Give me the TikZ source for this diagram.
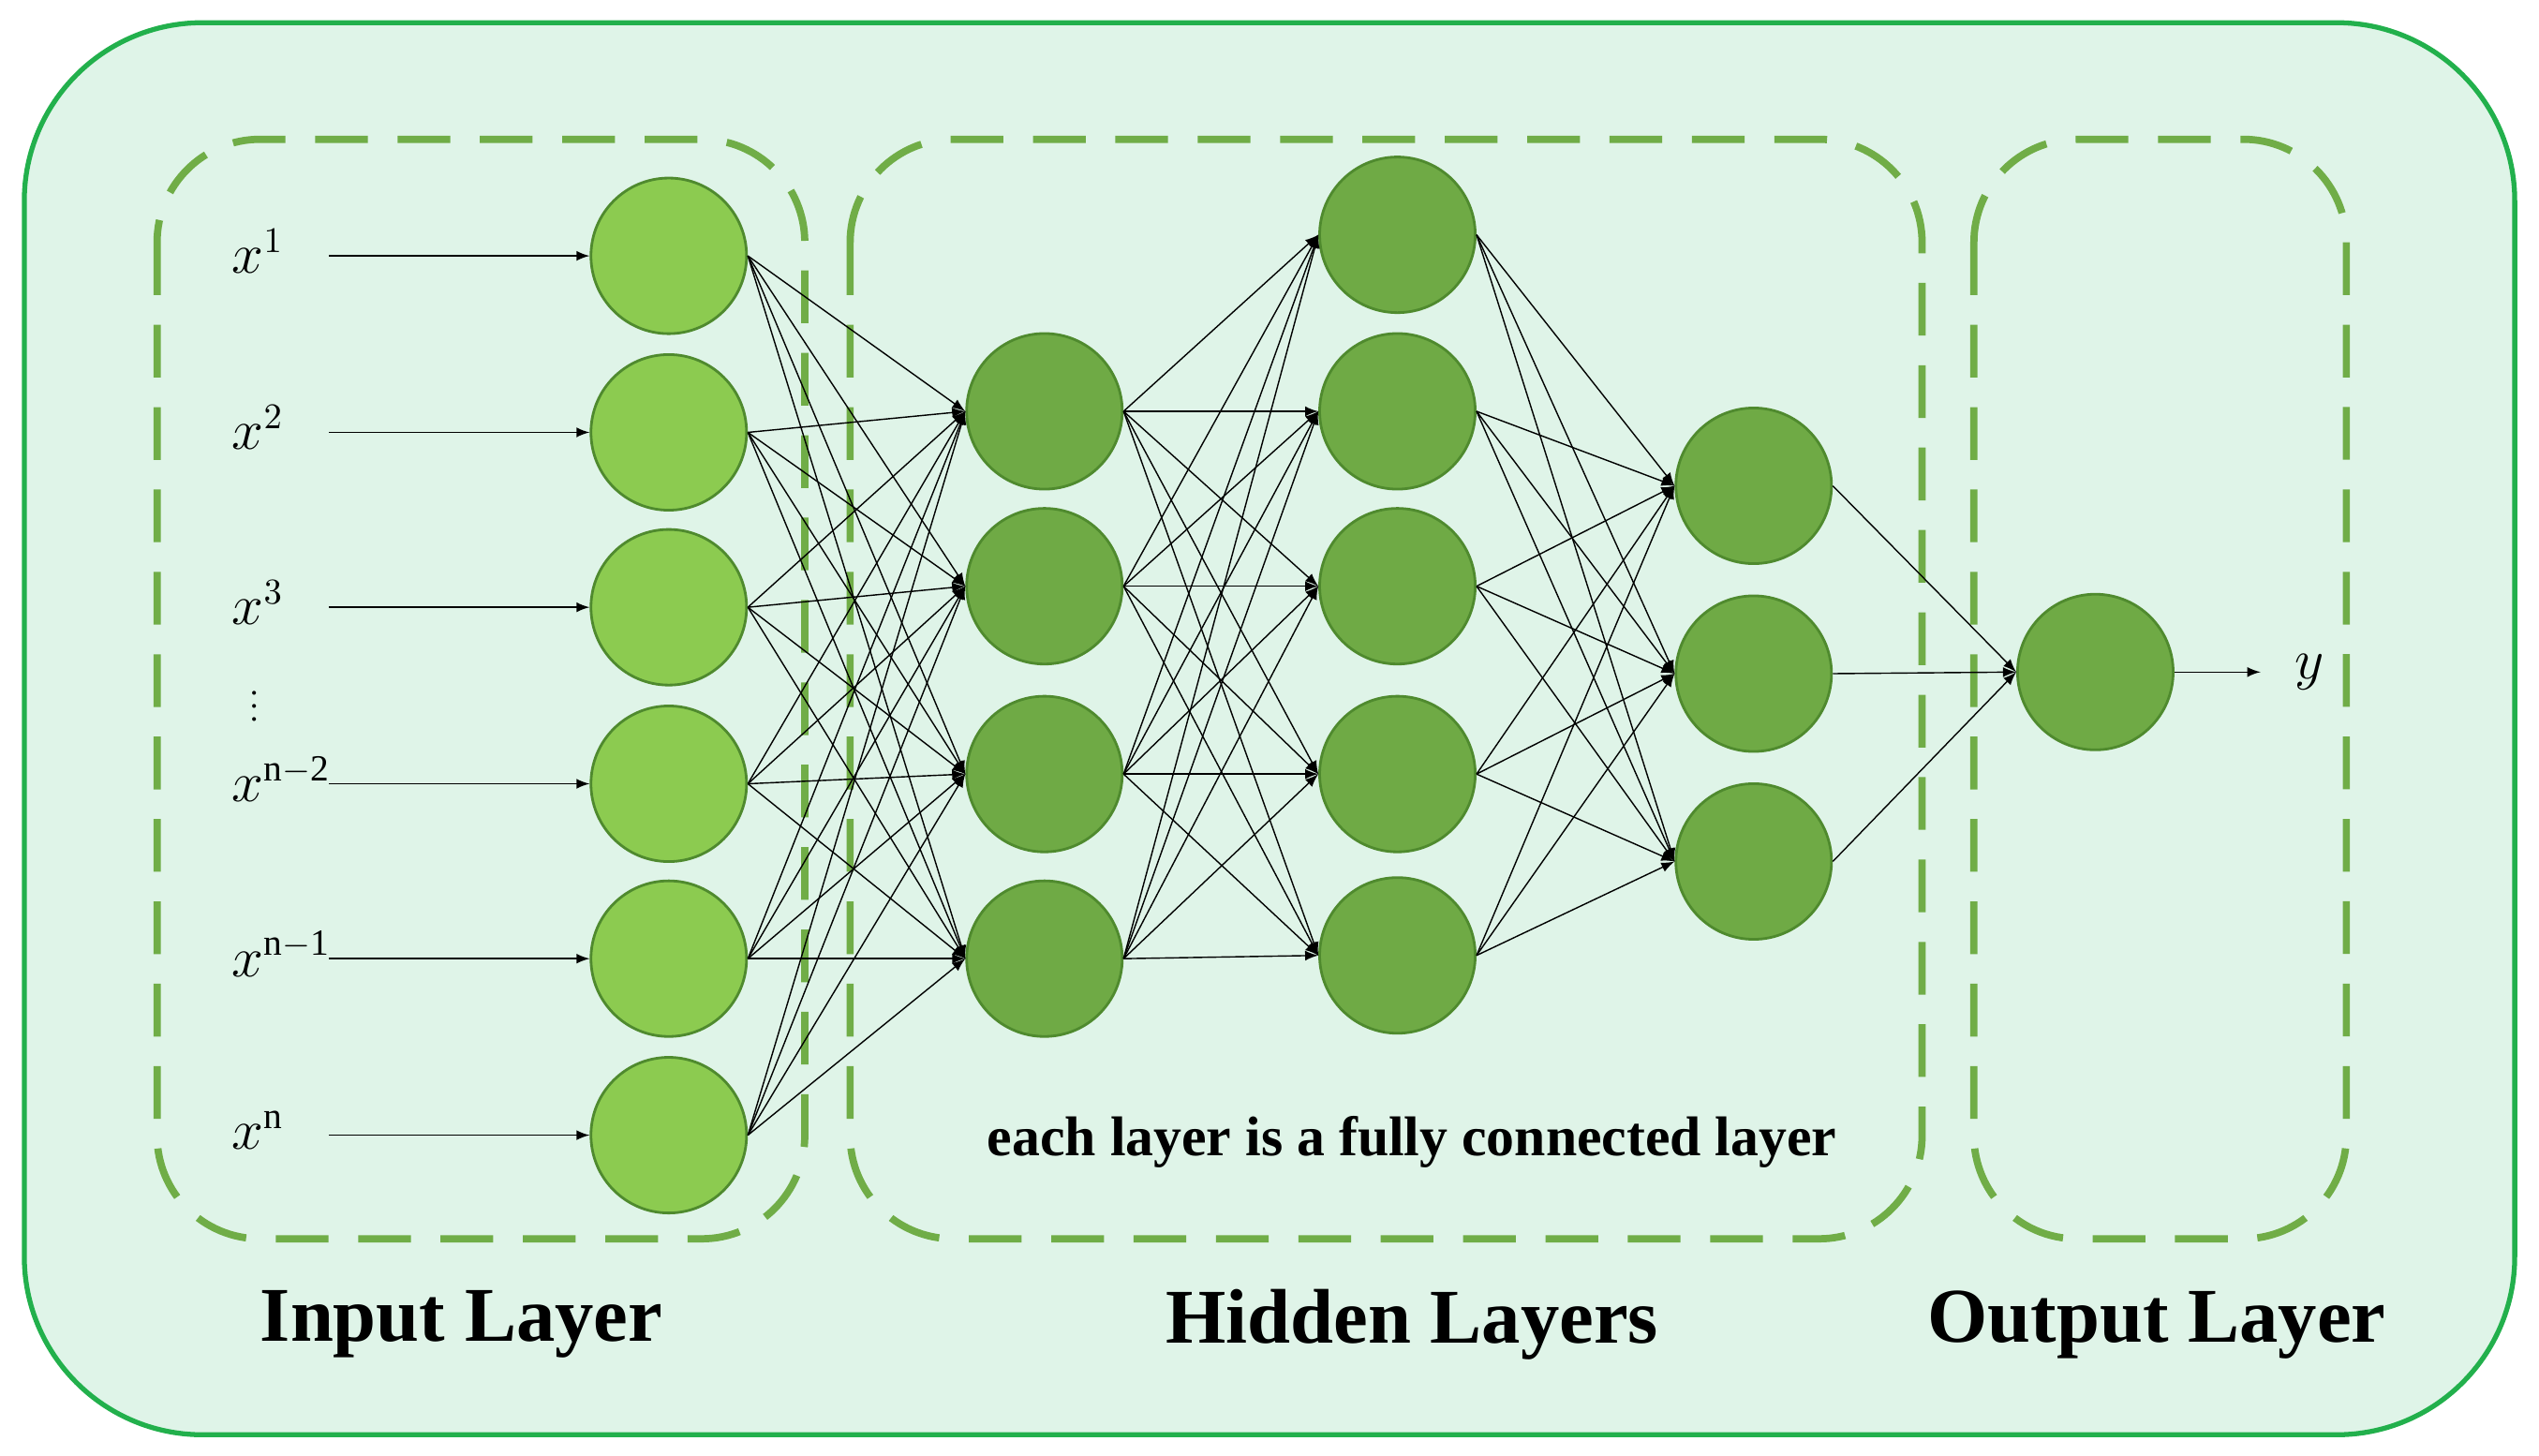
\documentclass[tikz,border=0pt]{standalone}
\usepackage{fontspec}
\setmainfont{Liberation Serif}
\usetikzlibrary{arrows,positioning}
\definecolor{bgfill}{HTML}{DFF4E8}
\definecolor{bgline}{HTML}{22B04C}
\definecolor{dashgreen}{HTML}{70AD47}
\definecolor{inputfill}{HTML}{8CCB50}
\definecolor{hiddenfill}{HTML}{6FAA45}
\definecolor{nodeline}{HTML}{4F8A2E}
\tikzset{
  neuron/.style={circle,minimum size=1.66cm,inner sep=0pt,draw=nodeline,thick},
  inneuron/.style={neuron,fill=inputfill},
  hidneuron/.style={neuron,fill=hiddenfill},
  layerbox/.style={draw=dashgreen,line width=2.2pt,dash pattern=on 16pt off 9pt,rounded corners=1.1cm},
  link/.style={-latex,black,line width=0.4pt},
  title/.style={font=\bfseries\fontsize{23.5}{28}\selectfont}
}
\begin{document}
\begin{tikzpicture}[x=0.01728cm,y=-0.01728cm]
  \useasboundingbox (0,0) rectangle (1568,899);
  %background
  \draw [fill=bgfill,draw=bgline,line width=1.5pt,rounded corners=1.9cm] (15,14) rectangle (1553,886);
  %dashed boxes
  \draw [layerbox] (97,86) rectangle (497,765);
  \draw [layerbox] (525,86) rectangle (1187,765);
  \draw [layerbox] (1219,86) rectangle (1449,765);
  %input layer
  \foreach \i/\y/\t in {1/158/$x^1$,2/267/$x^2$,3/375/$x^3$,4/484/$x^{\mathrm{n-2}}$,5/592/$x^{\mathrm{n-1}}$,6/701/$x^{\mathrm{n}}$}
  {
    \node [inneuron] (in\i) at (413,\y) {};
    \coordinate (s\i) at (203,\y);
    \node [font=\fontsize{16}{19}\selectfont,right,inner sep=0pt] (lab\i) at (143,\y-3) {\t};
    \draw [link] (s\i) -- (in\i);
  }
  \node [font=\fontsize{10}{10}\selectfont,inner sep=0pt] (vdots) at (157,430) {$\vdots$};
  %hidden layers
  \foreach \i/\y in {1/254,2/362,3/478,4/592}
    \node [hidneuron] (ha\i) at (645,\y) {};
  \foreach \i/\y in {1/145,2/254,3/362,4/478,5/590}
    \node [hidneuron] (hb\i) at (863,\y) {};
  \foreach \i/\y in {1/300,2/416,3/532}
    \node [hidneuron] (hc\i) at (1083,\y) {};
  %output layer
  \node [hidneuron] (out) at (1294,415) {};
  \coordinate (yend) at (1396,415);
  \node [font=\fontsize{16}{19}\selectfont,right] (ylab) at (1410,415) {$y$};
  \draw [link] (out) -- (yend);
  %connections
  \foreach \a in {1,...,6}
    \foreach \b in {1,...,4}
      \draw [link] (in\a.east) -- (ha\b.west);
  \foreach \a in {1,...,4}
    \foreach \b in {1,...,5}
      \draw [link] (ha\a.east) -- (hb\b.west);
  \foreach \a in {1,...,5}
    \foreach \b in {1,...,3}
      \draw [link] (hb\a.east) -- (hc\b.west);
  \foreach \a in {1,...,3}
    \draw [link] (hc\a.east) -- (out.west);
  %texts
  \node [font=\bfseries\fontsize{17}{20}\selectfont] (note) at (872,705) {each layer is a fully connected layer};
  \node [title] (tin) at (285,818) {Input Layer};
  \node [title] (thid) at (872,818) {Hidden Layers};
  \node [title] (tout) at (1332,818) {Output Layer};
\end{tikzpicture}
\end{document}
